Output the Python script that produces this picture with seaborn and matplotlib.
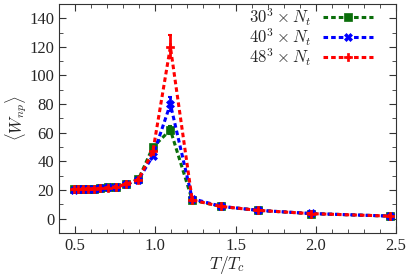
import numpy as np
import pandas as pd
import matplotlib
matplotlib.use("Agg")
import matplotlib.pyplot as plt
import seaborn as sns
from matplotlib.ticker import MultipleLocator

# T/Tc values (same temperatures for all volumes)
temps = [0.4925, 0.518, 0.547, 0.58, 0.616, 0.657, 0.704, 0.758, 0.82,
         0.895, 0.985, 1.094, 1.23, 1.41, 1.64, 1.97, 2.46]

w_30 = [20.5, 20.5, 20.7, 20.8, 21.0, 21.2, 21.8, 22.3, 24.0,
        27.5, 50.0, 62.0, 13.0, 8.5, 5.8, 3.5, 1.8]
w_40 = [20.3, 20.4, 20.6, 20.8, 21.0, 21.3, 21.8, 22.2, 24.0,
        27.0, 44.0, 80.0, 14.0, 8.6, 5.8, 3.6, 1.8]
w_48 = [20.4, 20.5, 20.6, 20.8, 21.0, 21.2, 21.7, 22.2, 24.2,
        27.2, 47.0, 120.0, 13.0, 8.5, 5.8, 3.5, 1.8]

err_30 = [0.5] * 11 + [3.0] + [0.5] * 5
err_40 = [0.5] * 11 + [5.0] + [0.5] * 5
err_48 = [0.5] * 11 + [8.0] + [0.5] * 5

labels = [r"$30^3\times N_t$", r"$40^3\times N_t$", r"$48^3\times N_t$"]
colors = ["#0a6e0a", "#0000ff", "#ff0000"]
markers = ["s", "X", "P"]

frames = []
for lab, w, e in zip(labels, [w_30, w_40, w_48], [err_30, err_40, err_48]):
    frames.append(pd.DataFrame({"T": temps, "W": w, "err": e, "lattice": lab}))
df = pd.concat(frames, ignore_index=True)

sns.set_style("ticks")
plt.rcParams["font.family"] = ["Liberation Serif", "DejaVu Serif"]
plt.rcParams["mathtext.fontset"] = "cm"

fig = plt.figure(figsize=(4.07, 2.8), dpi=100)
ax = fig.add_axes([0.145, 0.168, 0.828, 0.818])

dash = (0, (1.5, 1))
for lab, col, mk in zip(labels, colors, markers):
    sub = df[df["lattice"] == lab]
    ax.errorbar(sub["T"], sub["W"], yerr=sub["err"], fmt="none",
                ecolor=col, elinewidth=2, capsize=1.5, capthick=1.5)
    sns.lineplot(data=sub, x="T", y="W", ax=ax, color=col, marker=mk,
                 markersize=5.5, markeredgewidth=0.5, markeredgecolor=col,
                 linewidth=2.2, dashes=False, label=lab)
    ax.lines[-1].set_linestyle(dash)

ax.set_xlim(0.4, 2.5)
ax.set_ylim(-10, 150)
ax.xaxis.set_major_locator(MultipleLocator(0.5))
ax.xaxis.set_minor_locator(MultipleLocator(0.1))
ax.yaxis.set_major_locator(MultipleLocator(20))
ax.yaxis.set_minor_locator(MultipleLocator(10))
ax.tick_params(which="both", direction="in", top=True, right=True,
               labelsize=12, color="#333333")
ax.tick_params(which="major", length=5)
ax.tick_params(which="minor", length=3)
ax.set_xticks([0.5, 1.0, 1.5, 2.0, 2.5])
ax.set_xticklabels(["0.5", "1.0", "1.5", "2.0", "2.5"])
for s in ax.spines.values():
    s.set_color("#333333")
ax.set_xlabel(r"$T/T_c$", fontsize=12.5, labelpad=0)
ax.set_ylabel(r"$\langle W_{np}\rangle$", fontsize=12, labelpad=0)

leg = ax.legend(loc="upper right", bbox_to_anchor=(0.96, 1.035), frameon=False,
                markerfirst=False, handlelength=3.0, fontsize=12,
                borderaxespad=0.2, labelspacing=-0.09, handletextpad=0.7)
for h in leg.get_lines():
    h.set_linestyle(dash)

fig.savefig("out.png", dpi=100)
